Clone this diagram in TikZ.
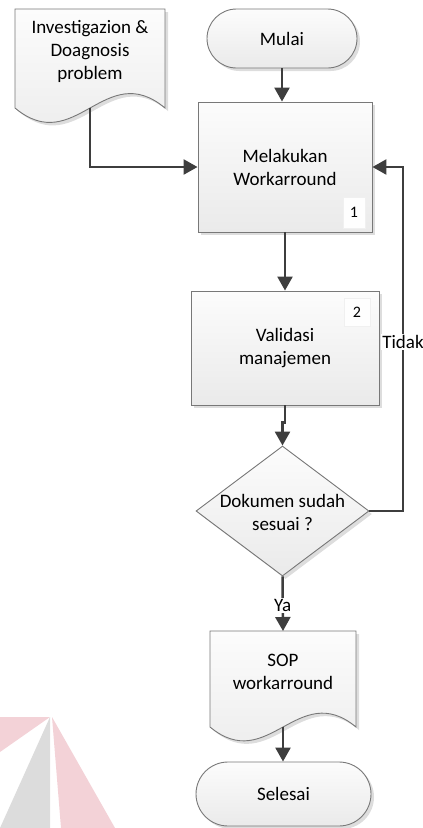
\documentclass[tikz,border=0pt]{standalone}
\usepackage{fontspec}
\setmainfont{Carlito}
\usetikzlibrary{arrows.meta,shapes.geometric,shadows}

\definecolor{edgegray}{HTML}{787878}
\definecolor{flowgray}{HTML}{3E3E3E}
\definecolor{filltop}{HTML}{FCFCFC}
\definecolor{fillbot}{HTML}{EAEAEA}
\definecolor{shadegray}{HTML}{DDDDDD}
\definecolor{wmred}{HTML}{F3D2D7}
\definecolor{wmgray}{HTML}{DCDCDC}

\tikzset{
  shapebox/.style={draw=edgegray, line width=0.9pt, top color=filltop, bottom color=fillbot,
    general shadow={shadow xshift=3pt, shadow yshift=-3pt, fill=shadegray}},
  procbox/.style={shapebox, rectangle, inner sep=0pt, align=center},
  termbox/.style={shapebox, rectangle, inner sep=0pt, align=center},
  decbox/.style={shapebox, diamond, inner sep=0pt},
  txt/.style={align=center, inner sep=0pt},
  numbox/.style={rectangle, draw=black!6, fill=white!60!filltop, inner sep=0pt, font=\fontsize{16pt}{19pt}\selectfont},
  lbl/.style={fill=white, inner sep=1pt},
  flow/.style={draw=flowgray, line width=2.5pt, -{Triangle[length=14pt,width=15pt]}},
}

\begin{document}
\begin{tikzpicture}[x=1pt, y=-1pt, font=\fontsize{19pt}{23pt}\selectfont]
\useasboundingbox (0,0) rectangle (423,828);

% faint logo in the lower left corner
\fill[wmred] (0,717) -- (50,717) -- (0,752) -- cycle;
\fill[wmgray] (50,717) -- (50,828) -- (0,828) -- cycle;
\fill[wmred] (52,717) -- (115,828) -- (61,828) -- cycle;

% input document
\path[shapebox] (15,108) -- (15,9) -- (165,9) -- (165,108)
  .. controls (105,58) and (75,158) .. (15,108) -- cycle;
\node[txt] (doc1txt) at (90,51) {Investigazion \&\\Doagnosis\\problem};
\coordinate (doc1out) at (90,108);

% start terminator
\node[termbox, minimum width=150pt, minimum height=59pt, rounded corners=29.5pt] (start) at (282,38.5) {Mulai};

% step 1
\node[procbox, minimum width=174pt, minimum height=130pt] (p1) at (285,167) {Melakukan\\Workarround};
\node[numbox, minimum width=22pt, minimum height=31pt] (n1) at (354,212.5) {1};

% step 2
\node[procbox, minimum width=188pt, minimum height=114pt] (p2) at (285,348) {Validasi\\manajemen};
\node[numbox, minimum width=26pt, minimum height=28pt] (n2) at (357,312) {2};

% decision
\node[decbox, minimum width=173pt, minimum height=130pt] (dec) at (282.5,511) {};
\node[txt] (dectxt) at (282.5,512) {Dokumen sudah\\sesuai ?};

% output document
\path[shapebox] (210,727) -- (210,631) -- (356,631) -- (356,727)
  .. controls (298,679) and (268,775) .. (210,727) -- cycle;
\node[txt] (doc2txt) at (283,672) {SOP\\workarround};
\coordinate (doc2top) at (283,631);
\coordinate (doc2out) at (283,727);

% end terminator
\node[termbox, minimum width=175pt, minimum height=64pt, rounded corners=32pt] (stop) at (283.5,794) {Selesai};

% connectors
\draw[flow] (doc1out) |- (p1.west);
\draw[flow] (start.south) -- (start.south |- p1.north);
\draw[flow] (p1.south) -- (p2.north);
\draw[flow] (p2.south) -- ++(0,17) -| (dec.north);
\coordinate (loop) at (403,167);
\draw[flow] (dec.east) -| (loop) -- (p1.east);
\node[lbl] (tidak) at (403,342) {Tidak};
\draw[flow] (dec.south) -- (doc2top) node[lbl, pos=0.53] (ya) {Ya};
\draw[flow] (doc2out) -- (doc2out |- stop.north);
\end{tikzpicture}
\end{document}
